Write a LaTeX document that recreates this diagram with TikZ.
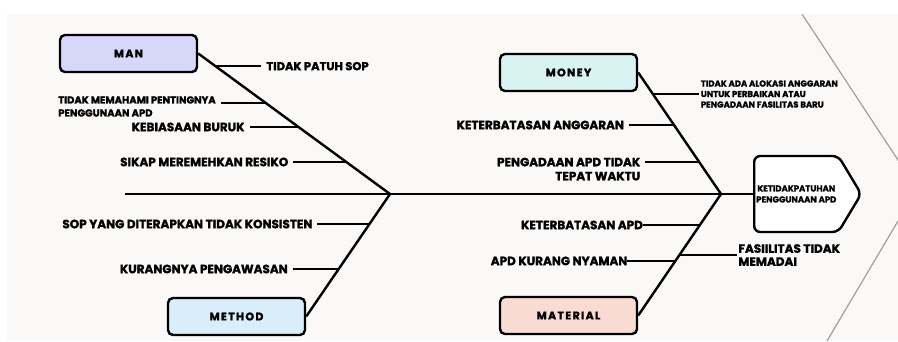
\documentclass[tikz,border=0pt]{standalone}
\usepackage{fontspec}
\setmainfont{Poppins}[BoldFeatures={FakeBold=1.6}]
\usetikzlibrary{positioning,calc,shapes.symbols}
\definecolor{paper}{HTML}{FAF9F7}
\definecolor{manfill}{HTML}{D7D7FA}
\definecolor{methodfill}{HTML}{D8EEFA}
\definecolor{moneyfill}{HTML}{D9F2F2}
\definecolor{matfill}{HTML}{FADBD3}

\begin{document}
\begin{tikzpicture}[x=1pt, y=-1pt,
  font=\bfseries\fontsize{12}{14}\selectfont,
  cat/.style={draw, line width=2.4pt, rounded corners=5pt,
    minimum width=137pt, minimum height=37pt, inner sep=0pt,
    font=\bfseries\fontsize{11}{13}\selectfont\addfontfeature{LetterSpace=12}},
  lbl/.style={inner xsep=5pt, inner ysep=1pt, outer sep=0pt},
  tiny/.style={lbl, font=\bfseries\fontsize{8.5}{10.5}\selectfont},
  bone/.style={line width=2.4pt},
  rib/.style={line width=2pt}]
\useasboundingbox (0,0) rectangle (898,341);
\fill[paper] (7,14) rectangle (898,341);
\begin{scope}
\clip (7,14) rectangle (898,341);
\draw[gray!75, line width=1.2pt] (802,14) -- (917,189) -- (827,341);
\end{scope}
\node[cat, fill=manfill] (man) at (128.5,53.5) {MAN};
\node[cat, fill=methodfill] (method) at (236.5,316.5) {METHOD};
\node[cat, fill=moneyfill] (money) at (568.5,72.5) {MONEY};
\node[cat, fill=matfill] (material) at (568.5,315.5) {MATERIAL};
\node[signal, signal to=east, signal pointer angle=118, draw, fill=white,
  line width=2.4pt, rounded corners=6pt, minimum width=107pt,
  minimum height=76pt, inner sep=0pt, align=center, anchor=west,
  font=\bfseries\fontsize{8.5}{11}\selectfont] (effect) at (753,194)
  {KETIDAKPATUHAN\\PENGGUNAAN APD};
\coordinate (tail) at (125,194);
\coordinate (jl) at (390,194);
\coordinate (jr) at (721,194);
\draw[bone] (tail) -- (effect.west);
\draw[bone] (man.east) -- (jl) -- (method.east);
\draw[bone] (money.east) -- (jr) -- (material.east);
\coordinate (m1) at ($(man.east)!0.09!(jl)$);
\coordinate (m2) at ($(man.east)!0.352!(jl)$);
\coordinate (m3) at ($(man.east)!0.523!(jl)$);
\coordinate (m4) at ($(man.east)!0.772!(jl)$);
\node[lbl, right=46pt of m1, font=\bfseries\fontsize{11.5}{13}\selectfont] (patuh) {TIDAK PATUH SOP};
\node[lbl, left=45pt of m2, yshift=-3.5pt, align=left,
  font=\bfseries\fontsize{10}{13}\selectfont] (paham)
  {TIDAK MEMAHAMI PENTINGNYA\\PENGGUNAAN APD};
\node[lbl, left=49pt of m3] (buruk) {KEBIASAAN BURUK};
\node[lbl, left=53pt of m4] (resiko) {SIKAP MEREMEHKAN RESIKO};
\draw[rib] (m1) -- (patuh);
\draw[rib] (paham.east |- m2) -- (m2);
\draw[rib] (buruk) -- (m3);
\draw[rib] (resiko) -- (m4);
\coordinate (t1) at ($(method.east)!0.755!(jl)$);
\coordinate (t2) at ($(method.east)!0.388!(jl)$);
\node[lbl, left=52pt of t1] (konsisten) {SOP YANG DITERAPKAN TIDAK KONSISTEN};
\node[lbl, left=46pt of t2] (awas) {KURANGNYA PENGAWASAN};
\draw[rib] (konsisten) -- (t1);
\draw[rib] (awas) -- (t2);
\coordinate (u1) at ($(money.east)!0.177!(jr)$);
\coordinate (u2) at ($(money.east)!0.432!(jr)$);
\coordinate (u3) at ($(money.east)!0.737!(jr)$);
\node[tiny, right=46pt of u1, inner xsep=2pt, align=left] (alokasi)
  {TIDAK ADA ALOKASI ANGGARAN\\UNTUK PERBAIKAN ATAU\\PENGADAAN FASILITAS BARU};
\node[lbl, left=45pt of u2] (anggaran) {KETERBATASAN ANGGARAN};
\node[lbl, left=54pt of u3, yshift=-7pt, align=right,
  font=\bfseries\fontsize{12}{14}\selectfont] (tepat)
  {PENGADAAN APD TIDAK\\TEPAT WAKTU};
\draw[rib] (u1) -- (alokasi);
\draw[rib] (anggaran) -- (u2);
\draw[rib] (tepat.east |- u3) -- (u3);
\coordinate (v1) at ($(material.east)!0.745!(jr)$);
\coordinate (v2) at ($(material.east)!0.498!(jr)$);
\coordinate (v3) at ($(material.east)!0.449!(jr)$);
\node[lbl, left=57pt of v1, inner xsep=0pt] (apdlimit) {KETERBATASAN APD};
\node[lbl, left=48pt of v3, inner xsep=0pt] (nyaman) {APD KURANG NYAMAN};
\node[lbl, right=58pt of v2, inner xsep=1pt, align=left,
  font=\bfseries\fontsize{12}{13}\selectfont] (fasilitas)
  {FASIILITAS TIDAK\\MEMADAI};
\draw[rib] (apdlimit) -- (v1);
\draw[rib] (nyaman) -- (v3);
\draw[rib] (v2) -- (fasilitas);
\end{tikzpicture}
\end{document}
